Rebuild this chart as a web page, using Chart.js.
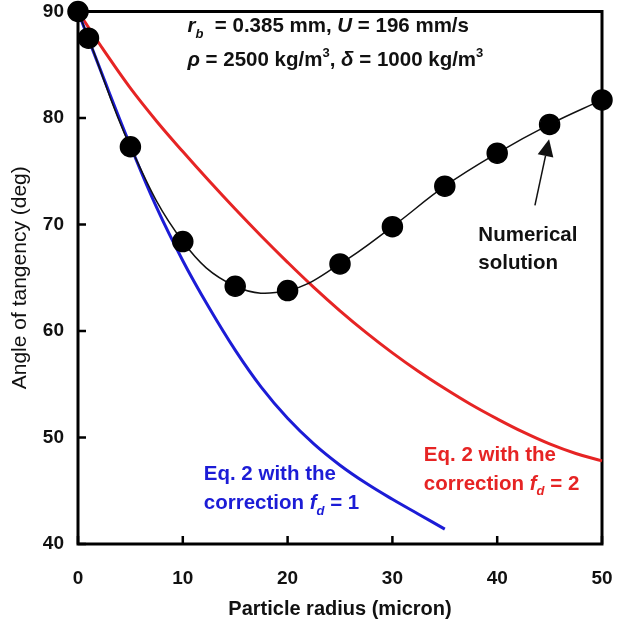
<!DOCTYPE html>
<html>
<head>
<meta charset="utf-8">
<script src="https://cdn.jsdelivr.net/npm/chart.js@4.4.1/dist/chart.umd.min.js"></script>
<style>
  html, body { margin: 0; padding: 0; background: #fff; }
  #wrap { width: 624px; height: 627px; }
</style>
</head>
<body>
<div id="wrap"><canvas id="tangencyChart" width="624" height="627"></canvas></div>
<script>
// numerical solution (markers)
const numRadius = [0, 1, 5, 10, 15, 20, 25, 30, 35, 40, 45, 50];
const numAngle = [90, 87.5, 77.3, 68.4, 64.2, 63.8, 66.3, 69.8, 73.6, 76.7, 79.4, 81.7];

// Eq. 2, fd = 1 (blue)
const fd1Radius = [0, 2.5, 5, 7.5, 10, 12.5, 15, 17.5, 20, 22.5, 25, 27.5, 30, 32.5, 35];
const fd1Angle = [90, 83.6, 77.4, 71.6, 66.6, 62.2, 58.2, 54.7, 51.8, 49.4, 47.4, 45.7, 44.2, 42.8, 41.4];

// Eq. 2, fd = 2 (red)
const fd2Radius = [0, 2.5, 5, 7.5, 10, 12.5, 15, 17.5, 20, 22.5, 25, 27.5, 30, 32.5, 35, 37.5, 40, 42.5, 45, 47.5, 50];
const fd2Angle = [90, 86.3, 82.8, 79.7, 76.85, 74.1, 71.45, 68.9, 66.45, 64.1, 61.9, 59.85, 57.95, 56.2, 54.6, 53.1, 51.75, 50.5, 49.4, 48.5, 47.8];

const xTicks = [0, 10, 20, 30, 40, 50];
const yTicks = [40, 50, 60, 70, 80, 90];

const FONT = '"Liberation Sans", Arial, sans-serif';
const BLUE = '#1c1cd6';
const RED = '#e62424';
const TXT = 20.5;

function toPoints(xs, ys) {
    return xs.map((x, i) => ({ x: x, y: ys[i] }));
}

// draw a line of text made of runs (italic / sub / sup)
function drawRuns(ctx, x, y, runs, color, size) {
    ctx.fillStyle = color;
    ctx.textAlign = 'left';
    ctx.textBaseline = 'alphabetic';
    runs.forEach(r => {
        const s = (r.sub || r.sup) ? Math.round(size * 0.65) : size;
        ctx.font = (r.it ? 'italic ' : '') + 'bold ' + s + 'px ' + FONT;
        const dy = r.sub ? size * 0.28 : (r.sup ? -size * 0.45 : 0);
        ctx.fillText(r.t, x, y + dy);
        x += ctx.measureText(r.t).width;
    });
}

const framePlugin = {
    id: 'frame',
    beforeDatasetsDraw(chart) {
        const ctx = chart.ctx;
        const a = chart.chartArea;
        const xs = chart.scales.x, ys = chart.scales.y;
        ctx.save();
        ctx.strokeStyle = '#000';
        ctx.lineWidth = 3;
        ctx.strokeRect(a.left, a.top, a.right - a.left, a.bottom - a.top);
        ctx.lineWidth = 2.5;
        ctx.beginPath();
        yTicks.forEach(v => {
            const py = ys.getPixelForValue(v);
            ctx.moveTo(a.left, py);
            ctx.lineTo(a.left + 8, py);
        });
        xTicks.forEach(v => {
            const px = xs.getPixelForValue(v);
            ctx.moveTo(px, a.bottom);
            ctx.lineTo(px, a.bottom - 8);
        });
        ctx.stroke();
        ctx.restore();
    },
    afterDatasetsDraw(chart) {
        const ctx = chart.ctx;
        const xs = chart.scales.x, ys = chart.scales.y;
        const X = v => xs.getPixelForValue(v);
        const Y = v => ys.getPixelForValue(v);
        ctx.save();

        drawRuns(ctx, X(10.45), Y(88.05), [
            { t: 'r', it: 1 }, { t: 'b', it: 1, sub: 1 }, { t: '  = 0.385 mm, ' },
            { t: 'U', it: 1 }, { t: ' = 196 mm/s' }
        ], '#111', TXT);
        drawRuns(ctx, X(10.45), Y(84.85), [
            { t: 'ρ', it: 1 }, { t: ' = 2500 kg/m' }, { t: '3', sup: 1 }, { t: ', ' },
            { t: 'δ', it: 1 }, { t: ' = 1000 kg/m' }, { t: '3', sup: 1 }
        ], '#111', TXT);

        drawRuns(ctx, X(38.2), Y(68.45), [{ t: 'Numerical' }], '#111', TXT);
        drawRuns(ctx, X(38.2), Y(65.85), [{ t: 'solution' }], '#111', TXT);

        drawRuns(ctx, X(12.0), Y(46.0), [{ t: 'Eq. 2 with the' }], BLUE, TXT);
        drawRuns(ctx, X(12.0), Y(43.3), [
            { t: 'correction ' }, { t: 'f', it: 1 }, { t: 'd', it: 1, sub: 1 }, { t: ' = 1' }
        ], BLUE, TXT);

        drawRuns(ctx, X(33.0), Y(47.8), [{ t: 'Eq. 2 with the' }], RED, TXT);
        drawRuns(ctx, X(33.0), Y(45.1), [
            { t: 'correction ' }, { t: 'f', it: 1 }, { t: 'd', it: 1, sub: 1 }, { t: ' = 2' }
        ], RED, TXT);

        // arrow to the numerical curve
        const x0 = X(43.6), y0 = Y(71.8), x1 = X(44.95), y1 = Y(78.0);
        const ang = Math.atan2(y1 - y0, x1 - x0);
        const hl = 17, hw = 8;
        const bx = x1 - hl * Math.cos(ang), by = y1 - hl * Math.sin(ang);
        ctx.strokeStyle = '#111';
        ctx.lineWidth = 1.5;
        ctx.beginPath();
        ctx.moveTo(x0, y0);
        ctx.lineTo(bx, by);
        ctx.stroke();
        ctx.fillStyle = '#111';
        ctx.beginPath();
        ctx.moveTo(x1, y1);
        ctx.lineTo(bx + hw * Math.sin(ang), by - hw * Math.cos(ang));
        ctx.lineTo(bx - hw * Math.sin(ang), by + hw * Math.cos(ang));
        ctx.closePath();
        ctx.fill();
        ctx.restore();
    }
};

const ctx = document.getElementById('tangencyChart').getContext('2d');
window.tangencyChart = new Chart(ctx, {
    type: 'line',
    data: {
        datasets: [{
            label: 'Numerical solution',
            data: toPoints(numRadius, numAngle),
            borderColor: '#111',
            borderWidth: 1.5,
            backgroundColor: '#000',
            pointBackgroundColor: '#000',
            pointBorderColor: '#000',
            pointRadius: 10,
            tension: 0.4,
            clip: false
        }, {
            label: 'Eq. 2, fd = 1',
            data: toPoints(fd1Radius, fd1Angle),
            borderColor: BLUE,
            borderWidth: 3,
            pointRadius: 0,
            tension: 0.4,
            clip: false
        }, {
            label: 'Eq. 2, fd = 2',
            data: toPoints(fd2Radius, fd2Angle),
            borderColor: RED,
            borderWidth: 3,
            pointRadius: 0,
            tension: 0.4,
            clip: false
        }]
    },
    options: {
        responsive: false,
        devicePixelRatio: 1,
        animation: false,
        layout: { padding: { top: 10, right: 22, left: 0, bottom: 0 } },
        plugins: {
            legend: { display: false },
            tooltip: { enabled: false }
        },
        scales: {
            x: {
                type: 'linear',
                min: 0,
                max: 50,
                afterBuildTicks: s => { s.ticks = xTicks.map(v => ({ value: v })); },
                afterFit: s => { s.height = 83; s.paddingLeft = 0; s.paddingRight = 0; },
                grid: { display: false, drawTicks: false },
                border: { display: false },
                ticks: {
                    color: '#111',
                    padding: 23,
                    font: { family: FONT, size: 19, weight: 'bold', lineHeight: 1.2 }
                },
                title: {
                    display: true,
                    text: 'Particle radius (micron)',
                    color: '#111',
                    padding: { top: 6, bottom: 6 },
                    font: { family: FONT, size: 20, weight: 'bold', lineHeight: 1.2 }
                }
            },
            y: {
                type: 'linear',
                min: 40,
                max: 90,
                afterBuildTicks: s => { s.ticks = yTicks.map(v => ({ value: v })); },
                afterFit: s => { s.width = 78; s.paddingTop = 0; s.paddingBottom = 0; },
                grid: { display: false, drawTicks: false },
                border: { display: false },
                ticks: {
                    color: '#111',
                    padding: 14,
                    font: { family: FONT, size: 19, weight: 'bold', lineHeight: 1 }
                },
                title: {
                    display: true,
                    text: 'Angle of tangency (deg)',
                    color: '#111',
                    padding: { top: 8, bottom: 8 },
                    font: { family: FONT, size: 21, weight: 'normal', lineHeight: 1.2 }
                }
            }
        }
    },
    plugins: [framePlugin]
});
</script>
</body>
</html>
